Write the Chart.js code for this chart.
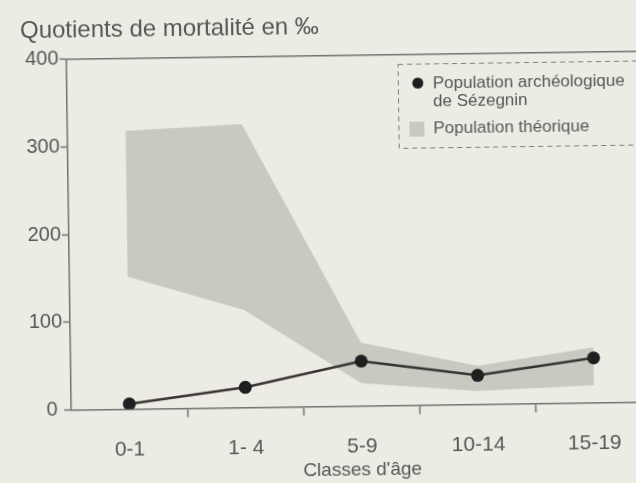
<!DOCTYPE html>
<html>
  <head>
    <meta charset="utf-8">
    <title>Quotients de mortalité</title>
    <script src="https://cdn.jsdelivr.net/npm/chart.js"></script>
    <style>
      html, body { margin: 0; padding: 0; overflow: hidden; background: #ecece4; }
      #frame { width: 636px; height: 483px; overflow: hidden; }
      #tilt { width: 660px; height: 483px; transform: rotate(-0.8deg); transform-origin: 318px 241px; }
    </style>
  </head>
  <body>
    <div id="frame">
      <div id="tilt">
        <canvas id="mortaliteChart" width="660" height="483"></canvas>
      </div>
    </div>

    <script>
      // classes d'âge et quotients (‰)
      const classes = ['0-1', '1- 4', '5-9', '10-14', '15-19'];
      const sezegnin = [6, 23, 51, 33, 51];
      const theoriqueMax = [317, 323, 72, 44, 63];
      const theoriqueMin = [151, 111, 26, 15, 20];
      const yTicks = [0, 100, 200, 300, 400];

      const labelSezegnin = 'Population archéologique\nde Sézegnin';
      const labelTheorique = 'Population théorique';

      const textColor = '#575757';
      const axisColor = '#717171';
      const bandColor = '#c8c9c0';
      const fontFamily = '"Liberation Sans", Arial, sans-serif';

      Chart.defaults.font.family = fontFamily;
      Chart.defaults.color = textColor;

      // legende en cadre pointillé, libellés sur plusieurs lignes
      const legendBox = {
        id: 'legendBox',
        afterDraw(chart) {
          const ctx = chart.ctx;
          ctx.save();
          ctx.strokeStyle = '#7c7c7c';
          ctx.lineWidth = 1;
          ctx.setLineDash([5, 4]);
          ctx.strokeRect(400.5, 65.5, 300, 84);
          ctx.setLineDash([]);

          ctx.font = '17px ' + fontFamily;
          ctx.textBaseline = 'middle';

          const ds = chart.data.datasets;
          // cercle noir
          ctx.beginPath();
          ctx.arc(420, 84.5, 5.5, 0, Math.PI * 2);
          ctx.fillStyle = ds[0].pointBackgroundColor;
          ctx.fill();
          ctx.fillStyle = textColor;
          ds[0].label.split('\n').forEach((line, i) => {
            ctx.fillText(line, 435, 85 + i * 18.5);
          });

          // carré gris
          ctx.fillStyle = ds[1].backgroundColor;
          ctx.fillRect(411, 123, 15, 15);
          ctx.fillStyle = textColor;
          ctx.fillText(ds[1].label, 435, 130);
          ctx.restore();
        }
      };

      const ctx = document.getElementById('mortaliteChart').getContext('2d');
      const chart = new Chart(ctx, {
        type: 'line',
        data: {
          labels: classes,
          datasets: [
            {
              label: labelSezegnin,
              data: sezegnin,
              borderColor: '#383232',
              borderWidth: 2.5,
              pointRadius: 6.5,
              pointBackgroundColor: '#1f1f1f',
              pointBorderWidth: 0,
              tension: 0,
              fill: false
            },
            {
              label: labelTheorique,
              data: theoriqueMax,
              backgroundColor: bandColor,
              borderWidth: 0,
              pointRadius: 0,
              tension: 0,
              fill: '+1'
            },
            {
              label: '',
              data: theoriqueMin,
              borderWidth: 0,
              pointRadius: 0,
              tension: 0,
              fill: false
            }
          ]
        },
        options: {
          responsive: false,
          animation: false,
          devicePixelRatio: 1,
          layout: { padding: { left: 23, right: 10, top: 0, bottom: 0 } },
          plugins: {
            legend: { display: false },
            tooltip: { enabled: false },
            title: {
              display: true,
              text: 'Quotients de mortalité en ‰',
              align: 'start',
              color: textColor,
              font: { size: 24, weight: 'normal' },
              padding: { top: 13, bottom: 13.7 }
            }
          },
          scales: {
            x: {
              type: 'category',
              offset: true,
              grid: {
                offset: true,
                drawOnChartArea: false,
                drawTicks: true,
                tickLength: 9,
                tickWidth: 1.5,
                tickColor: (c) => (c.index === 0 ? 'rgba(0,0,0,0)' : axisColor)
              },
              border: { color: axisColor, width: 1.5 },
              ticks: { color: textColor, font: { size: 21 }, padding: 19, maxRotation: 0 },
              title: {
                display: true,
                text: "Classes d'âge",
                color: textColor,
                font: { size: 19 },
                padding: { top: 0, bottom: 0.5 }
              },
              afterFit: (scale) => { scale.height = 76.5; }
            },
            xTop: {
              type: 'category',
              position: 'top',
              grid: { display: false, drawTicks: false },
              ticks: { display: false },
              border: { color: axisColor, width: 1.5 },
              afterFit: (scale) => { scale.height = 0; }
            },
            y: {
              min: 0,
              max: 400,
              grid: {
                drawOnChartArea: false,
                drawTicks: true,
                tickLength: 7,
                tickWidth: 1.5,
                tickColor: axisColor
              },
              border: { color: axisColor, width: 1.5 },
              ticks: {
                color: textColor,
                font: { size: 20 },
                padding: 1,
                // le zéro est décalé vers la gauche
                callback: (v) => (v === 0 ? '0 ' : String(v))
              },
              afterBuildTicks: (scale) => { scale.ticks = yTicks.map((v) => ({ value: v })); },
              afterFit: (scale) => { scale.width = 46; }
            }
          }
        },
        plugins: [legendBox]
      });
    </script>
  </body>
</html>
